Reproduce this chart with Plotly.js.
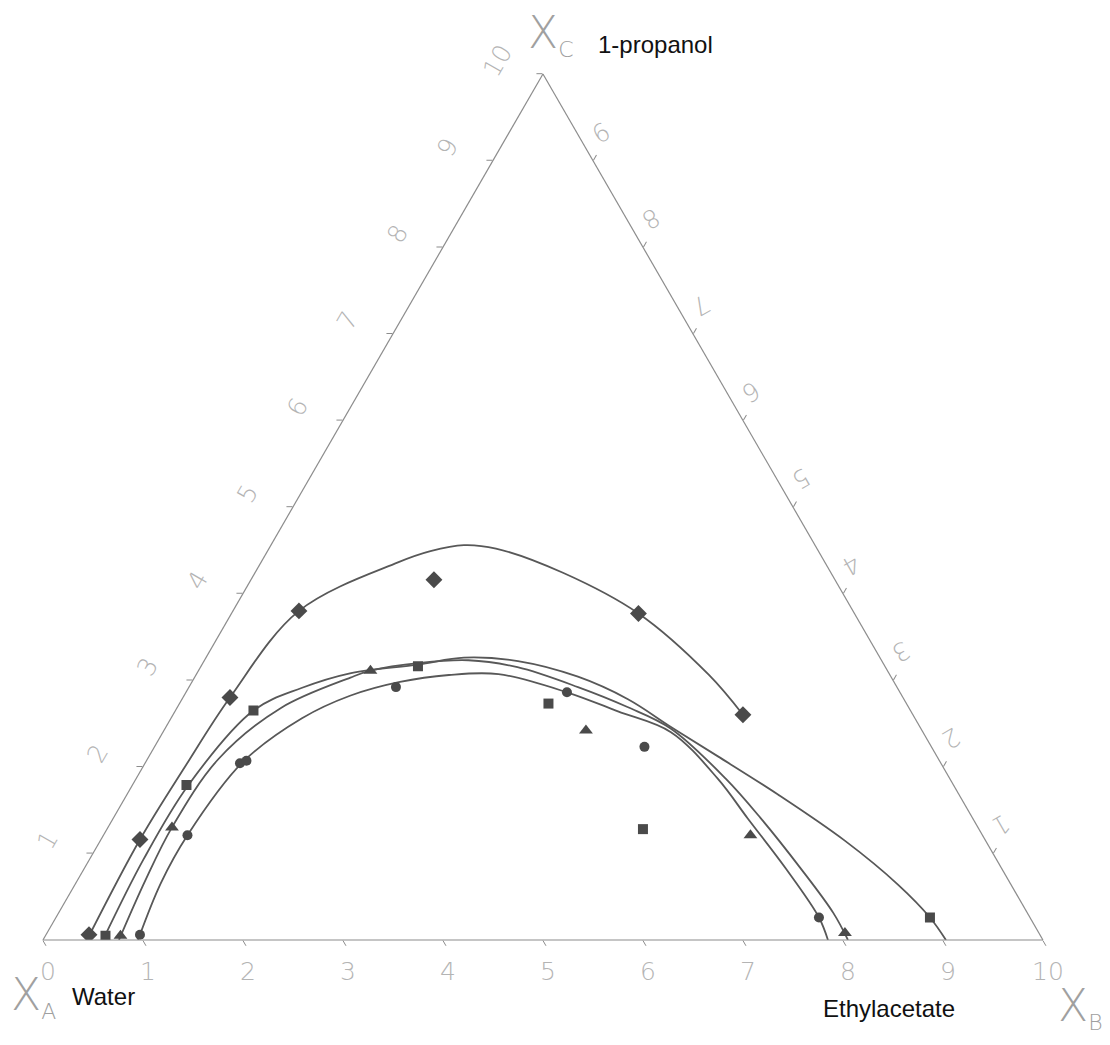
<!DOCTYPE html>
<html>
<head>
<meta charset="utf-8">
<script src="https://cdn.plot.ly/plotly-3.0.1.min.js"></script>
<style>
  html, body { margin: 0; padding: 0; background: #ffffff; }
  #chart { width: 1110px; height: 1045px; }
</style>
</head>
<body>
<div id="chart"></div>
<script>
// ---------- tick labels ----------
// left edge (1-propanol, X_C)
const leftTickVals = [1, 2, 3, 4, 5, 6, 7, 8, 9, 10];
const leftTickText = ['1', '2', '3', '4', '5', '6', '7', '8', '9', '10'];
// bottom edge: printed numbers run 0..10 left to right (positions given on the water axis)
const bottomTickVals = [10, 9, 8, 7, 6, 5, 4, 3, 2, 1, 0];
const bottomTickText = ['0', '1', '2', '3', '4', '5', '6', '7', '8', '9', '10'];
// right edge: printed numbers run 9..1 from top to bottom (positions given on the ethylacetate axis)
const rightTickVals = [1, 2, 3, 4, 5, 6, 7, 8, 9];
const rightTickText = ['9', '8', '7', '6', '5', '4', '3', '2', '1'];

// ---------- measured points (scale 0-10) ----------
// diamonds
const diamondPropanol     = [0.06, 1.16, 2.80, 3.80, 4.16, 3.77, 2.60];
const diamondEthylacetate = [0.43, 0.39, 0.47, 0.66, 1.83, 4.07, 5.70];
// squares
const squarePropanol      = [0.05, 1.79, 2.65, 3.16, 2.73, 1.28, 0.26];
const squareEthylacetate  = [0.60, 0.54, 0.78, 2.17, 3.69, 5.36, 8.74];
// triangles
const trianglePropanol     = [0.05, 1.30, 3.11, 2.42, 1.21, 0.08];
const triangleEthylacetate = [0.75, 0.64, 1.72, 4.22, 6.47, 7.98];
// circles
const circlePropanol      = [0.06, 1.21, 2.04, 2.07, 2.92, 2.86, 2.23, 0.26];
const circleEthylacetate  = [0.94, 0.84, 0.95, 1.00, 2.07, 3.81, 4.90, 7.63];

// ---------- drawn binodal curves ----------
const diamondCurvePropanol     = [0.00, 1.16, 2.00, 2.80, 3.80, 4.36, 4.49, 4.56, 4.52, 4.24, 3.77, 3.06, 2.60];
const diamondCurveEthylacetate = [0.44, 0.39, 0.42, 0.47, 0.66, 1.37, 1.63, 1.93, 2.27, 3.08, 4.07, 5.13, 5.70];

const squareCurvePropanol      = [0.00, 0.93, 1.79, 2.65, 2.91, 3.08, 3.18, 3.26, 3.22, 3.04, 2.78, 2.46, 2.12, 1.68, 1.15, 0.64, 0.26, 0.00];
const squareCurveEthylacetate  = [0.60, 0.54, 0.56, 0.78, 1.13, 1.53, 2.16, 2.58, 3.14, 3.83, 4.46, 5.05, 5.69, 6.51, 7.44, 8.23, 8.74, 9.03];

const triangleCurvePropanol     = [0.00, 0.69, 1.30, 2.09, 2.68, 3.03, 3.11, 3.20, 3.23, 3.15, 2.92, 2.69, 2.44, 1.86, 1.41, 0.83, 0.31, 0.00];
const triangleCurveEthylacetate = [0.76, 0.68, 0.64, 0.71, 1.04, 1.56, 1.72, 2.17, 2.64, 3.17, 3.89, 4.50, 5.06, 5.90, 6.47, 7.16, 7.75, 8.05];

const circleCurvePropanol      = [0.00, 0.66, 1.21, 2.05, 2.56, 2.82, 2.98, 3.06, 3.07, 2.86, 2.64, 2.40, 1.86, 1.40, 0.83, 0.26, 0.00];
const circleCurveEthylacetate  = [0.95, 0.85, 0.84, 0.97, 1.31, 1.66, 2.08, 2.53, 3.02, 3.81, 4.43, 5.08, 5.82, 6.35, 7.01, 7.63, 7.85];

// ---------- styling ----------
const curveColor = '#585858';
const markerColor = '#4a4a4a';
const axisGray = '#8c8c8c';
const tickFont = { family: 'DejaVu Sans, Liberation Sans, sans-serif', size: 25, color: '#b4b4b4', weight: 200 };

function curve(a, c, name) {
  return {
    type: 'scatterternary', mode: 'lines', name: name, subplot: 'ternary',
    a: a, c: c,
    line: { color: curveColor, width: 1.8, shape: 'spline', smoothing: 1 },
    hoverinfo: 'skip', showlegend: false
  };
}
function points(a, c, symbol, size, name) {
  return {
    type: 'scatterternary', mode: 'markers', name: name, subplot: 'ternary',
    a: a, c: c,
    marker: { symbol: symbol, size: size, color: markerColor, line: { width: 0 } },
    showlegend: false
  };
}

const data = [
  curve(diamondCurvePropanol, diamondCurveEthylacetate, 'diamond curve'),
  curve(squareCurvePropanol, squareCurveEthylacetate, 'square curve'),
  curve(triangleCurvePropanol, triangleCurveEthylacetate, 'triangle curve'),
  curve(circleCurvePropanol, circleCurveEthylacetate, 'circle curve'),
  points(diamondPropanol, diamondEthylacetate, 'diamond', 13, 'diamonds'),
  points(squarePropanol, squareEthylacetate, 'square', 10, 'squares'),
  points(trianglePropanol, triangleEthylacetate, 'triangle-up', 12, 'triangles'),
  points(circlePropanol, circleEthylacetate, 'circle', 10, 'circles'),
  // empty trace that only carries the overlaid tick-label frame
  { type: 'scatterternary', mode: 'markers', subplot: 'ternary2', a: [], c: [], showlegend: false, hoverinfo: 'skip' }
];

// frame with the short visible tick marks and the edges
function frameAxis(vals) {
  return {
    title: { text: '' },
    tickmode: 'array', tickvals: vals,
    showticklabels: false,
    ticks: 'outside', ticklen: 6, tickwidth: 1, tickcolor: axisGray,
    showline: true, linecolor: axisGray, linewidth: 1.2,
    showgrid: false
  };
}
// overlay that places the printed numbers further out from the edges
function labelAxis(vals, text, angle, dist) {
  return {
    title: { text: '' },
    tickmode: 'array', tickvals: vals, ticktext: text,
    tickangle: angle,
    ticks: 'outside', ticklen: dist, tickwidth: 1, tickcolor: 'rgba(0,0,0,0)',
    showline: false, showgrid: false,
    tickfont: tickFont
  };
}

const labelFont = { family: 'Liberation Sans, Arial, sans-serif', size: 24, color: '#111111' };
const bigXFont = { family: 'DejaVu Sans, sans-serif', size: 44, color: '#a0a0a0', weight: 200 };
const ternaryDomain = { x: [0.0387, 0.9396], y: [0.1005, 0.9292] };

const layout = {
  width: 1110, height: 1045,
  margin: { l: 0, r: 0, t: 0, b: 0 },
  paper_bgcolor: '#ffffff',
  showlegend: false,
  ternary: {
    sum: 10,
    bgcolor: '#ffffff',
    domain: ternaryDomain,
    aaxis: frameAxis(leftTickVals),
    baxis: frameAxis(bottomTickVals),
    caxis: frameAxis(rightTickVals)
  },
  ternary2: {
    sum: 10,
    bgcolor: 'rgba(0,0,0,0)',
    domain: ternaryDomain,
    aaxis: labelAxis(leftTickVals, leftTickText, -60, 30),
    baxis: labelAxis(bottomTickVals, bottomTickText, 0, 10),
    caxis: labelAxis(rightTickVals, rightTickText, 150, 26)
  },
  annotations: [
    { text: 'X<sub><span style="font-size:22px">C</span></sub>', xref: 'paper', yref: 'paper', x: 0.474, y: 0.967, xanchor: 'left', yanchor: 'middle', showarrow: false, font: bigXFont },
    { text: '1-propanol', xref: 'paper', yref: 'paper', x: 0.537, y: 0.957, xanchor: 'left', yanchor: 'middle', showarrow: false, font: labelFont },
    { text: 'X<sub><span style="font-size:22px">A</span></sub>', xref: 'paper', yref: 'paper', x: 0.008, y: 0.046, xanchor: 'left', yanchor: 'middle', showarrow: false, font: bigXFont },
    { text: 'Water', xref: 'paper', yref: 'paper', x: 0.063, y: 0.046, xanchor: 'left', yanchor: 'middle', showarrow: false, font: labelFont },
    { text: 'Ethylacetate', xref: 'paper', yref: 'paper', x: 0.740, y: 0.035, xanchor: 'left', yanchor: 'middle', showarrow: false, font: labelFont },
    { text: 'X<sub><span style="font-size:22px">B</span></sub>', xref: 'paper', yref: 'paper', x: 0.951, y: 0.036, xanchor: 'left', yanchor: 'middle', showarrow: false, font: bigXFont }
  ]
};

Plotly.newPlot('chart', data, layout, { displayModeBar: false, staticPlot: true });
</script>
</body>
</html>
